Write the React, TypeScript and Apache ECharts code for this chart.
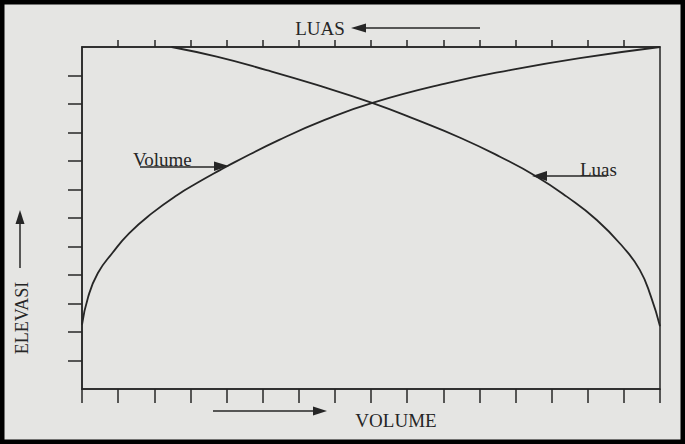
import React, { useEffect, useRef } from "react";
import * as echarts from "echarts";

// Elevation axis: 0..12 (12 divisions), horizontal axes: 0..16 (16 divisions)
const xMax = 16;
const yMax = 12;

// Volume curve (bottom axis, left -> right)
const volumeX = [0, 0.17, 0.44, 0.84, 1.31, 1.95, 2.64, 3.23, 3.82, 4.23, 5.46, 6.72, 8.04, 10.14, 11.85, 13.78, 16];
const volumeElev = [2.25, 3.23, 4.07, 4.77, 5.47, 6.18, 6.81, 7.26, 7.68, 7.96, 8.74, 9.44, 10.04, 10.74, 11.19, 11.61, 12];

// Luas curve (top axis, right -> left)
const luasX = [0, 0.25, 0.56, 1.03, 1.75, 2.58, 3.41, 4.43, 5.5, 6.73, 7.97, 9.5, 10.89, 12.27, 13.52];
const luasElev = [2.2, 3.24, 4.18, 4.99, 5.93, 6.75, 7.45, 8.15, 8.8, 9.44, 10.04, 10.67, 11.19, 11.66, 12];

const topTicks = Array.from({ length: xMax - 1 }, (_, i) => i + 1);
const leftTicks = Array.from({ length: yMax - 1 }, (_, i) => i + 1);

const INK = "#262626";
const FONT = "19px 'Liberation Serif', 'DejaVu Serif', serif";

export default function App() {
  const ref = useRef<HTMLDivElement>(null);
  useEffect(() => {
    if (!ref.current) return;
    const chart = echarts.init(ref.current, undefined, { renderer: "svg" });
    const axisLine = { show: true, lineStyle: { color: INK, width: 1.5 } };
    chart.setOption({
      animation: false,
      backgroundColor: "#e5e5e3",
      grid: {
        left: 82,
        right: 25,
        top: 47,
        bottom: 55,
        show: true,
        borderColor: INK,
        borderWidth: 1.5,
        backgroundColor: "transparent",
      },
      xAxis: [
        {
          type: "value",
          position: "bottom",
          min: 0,
          max: xMax,
          interval: 1,
          axisLine,
          axisTick: { show: true, inside: false, length: 14, lineStyle: { color: INK, width: 1.5 } },
          axisLabel: { show: false },
          splitLine: { show: false },
        },
        {
          type: "value",
          position: "top",
          inverse: true,
          min: 0,
          max: xMax,
          interval: 1,
          axisLine,
          axisTick: {
            show: true,
            inside: false,
            length: 7,
            customValues: topTicks,
            lineStyle: { color: INK, width: 1.5 },
          },
          axisLabel: { show: false },
          splitLine: { show: false },
        },
      ],
      yAxis: {
        type: "value",
        min: 0,
        max: yMax,
        interval: 1,
        axisLine,
        axisTick: {
          show: true,
          inside: false,
          length: 14,
          customValues: leftTicks,
          lineStyle: { color: INK, width: 1.5 },
        },
        axisLabel: { show: false },
        splitLine: { show: false },
      },
      series: [
        {
          name: "Volume",
          type: "line",
          xAxisIndex: 0,
          data: volumeX.map((x, i) => [x, volumeElev[i]]),
          smooth: 0.5,
          symbol: "none",
          lineStyle: { color: INK, width: 1.8 },
        },
        {
          name: "Luas",
          type: "line",
          xAxisIndex: 1,
          data: luasX.map((x, i) => [x, luasElev[i]]),
          smooth: 0.5,
          symbol: "none",
          lineStyle: { color: INK, width: 1.8 },
        },
      ],
      graphic: [
        {
          type: "rect",
          shape: { x: 0, y: 0, width: 685, height: 444 },
          style: { fill: "none", stroke: "#000", lineWidth: 9 },
          silent: true,
        },
        // LUAS title + arrow
        {
          type: "text",
          x: 320,
          y: 28,
          style: { text: "LUAS", font: FONT, fill: INK, textAlign: "center", textVerticalAlign: "middle" },
        },
        { type: "line", shape: { x1: 362, y1: 28, x2: 480, y2: 28 }, style: { stroke: INK, lineWidth: 1.5 } },
        { type: "polygon", shape: { points: [[351, 28], [366, 23.5], [366, 32.5]] }, style: { fill: INK } },
        // VOLUME title + arrow
        {
          type: "text",
          x: 396,
          y: 420,
          style: { text: "VOLUME", font: FONT, fill: INK, textAlign: "center", textVerticalAlign: "middle" },
        },
        { type: "line", shape: { x1: 213, y1: 411, x2: 316, y2: 411 }, style: { stroke: INK, lineWidth: 1.5 } },
        { type: "polygon", shape: { points: [[327, 411], [313, 406.5], [313, 415.5]] }, style: { fill: INK } },
        // ELEVASI + arrow
        {
          type: "text",
          x: 22,
          y: 318,
          rotation: Math.PI / 2,
          style: { text: "ELEVASI", font: "18px 'Liberation Serif', serif", fill: INK, textAlign: "center", textVerticalAlign: "middle" },
        },
        { type: "line", shape: { x1: 20, y1: 268, x2: 20, y2: 222 }, style: { stroke: INK, lineWidth: 1.5 } },
        { type: "polygon", shape: { points: [[20, 210], [15.5, 224], [24.5, 224]] }, style: { fill: INK } },
        // Volume label
        {
          type: "text",
          x: 133,
          y: 159,
          style: { text: "Volume", font: FONT, fill: INK, textAlign: "left", textVerticalAlign: "middle" },
        },
        { type: "line", shape: { x1: 140, y1: 167, x2: 216, y2: 167 }, style: { stroke: INK, lineWidth: 1.5 } },
        { type: "polygon", shape: { points: [[229, 166], [214, 161.5], [214, 171]] }, style: { fill: INK } },
        // Luas label
        {
          type: "text",
          x: 580,
          y: 169,
          style: { text: "Luas", font: FONT, fill: INK, textAlign: "left", textVerticalAlign: "middle" },
        },
        { type: "line", shape: { x1: 545, y1: 176, x2: 607, y2: 176 }, style: { stroke: INK, lineWidth: 1.5 } },
        { type: "polygon", shape: { points: [[532, 176], [547, 171], [547, 181]] }, style: { fill: INK } },
      ],
    });
    return () => chart.dispose();
  }, []);
  return (
    <div
      ref={ref}
      style={{ position: "fixed", left: 0, top: 0, width: 685, height: 444 }}
    />
  );
}
